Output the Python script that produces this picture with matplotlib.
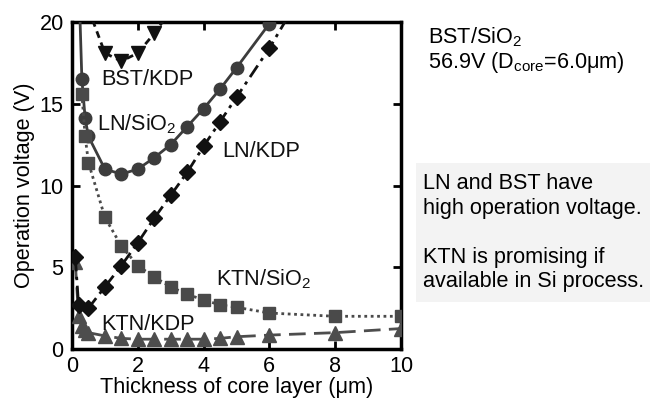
import matplotlib
matplotlib.use("Agg")
import matplotlib.pyplot as plt
from matplotlib.patches import Rectangle

plt.rcParams['font.family'] = ['Liberation Sans', 'DejaVu Sans']
plt.rcParams['mathtext.fontset'] = 'custom'
plt.rcParams['mathtext.rm'] = 'Liberation Sans'
plt.rcParams['mathtext.default'] = 'regular'

# ---- data ----
ln_sio2_x = [0.2, 0.3, 0.4, 0.5, 1.0, 1.5, 2.0, 2.5, 3.0, 3.5, 4.0, 4.5, 5.0, 6.0]
ln_sio2_y = [23.0, 16.5, 14.1, 13.0, 11.0, 10.7, 11.0, 11.7, 12.5, 13.6, 14.7, 15.9, 17.2, 19.9]

ln_kdp_x = [0.1, 0.2, 0.5, 1.0, 1.5, 2.0, 2.5, 3.0, 3.5, 4.0, 4.5, 5.0, 6.0, 7.0]
ln_kdp_y = [5.6, 2.7, 2.5, 3.8, 5.1, 6.5, 8.0, 9.4, 10.8, 12.4, 13.9, 15.4, 18.4, 21.8]

ktn_sio2_x = [0.3, 0.4, 0.5, 1.0, 1.5, 2.0, 2.5, 3.0, 3.5, 4.0, 4.5, 5.0, 6.0, 8.0, 10.0]
ktn_sio2_y = [15.6, 13.0, 11.4, 8.05, 6.3, 5.1, 4.4, 3.8, 3.35, 3.0, 2.7, 2.55, 2.2, 2.0, 2.0]

ktn_kdp_x = [0.1, 0.2, 0.3, 0.4, 0.5, 1.0, 1.5, 2.0, 2.5, 3.0, 3.5, 4.0, 4.5, 5.0, 6.0, 8.0, 10.0]
ktn_kdp_y = [5.3, 2.0, 1.4, 1.15, 1.0, 0.8, 0.65, 0.6, 0.6, 0.6, 0.6, 0.6, 0.65, 0.75, 0.85, 1.0, 1.25]

bst_kdp_x = [0.5, 1.0, 1.5, 2.0, 2.5, 3.0]
bst_kdp_y = [20.8, 18.1, 17.6, 18.1, 19.3, 20.7]

x_ticks = [0, 2, 4, 6, 8, 10]
y_ticks = [0, 5, 10, 15, 20]

series_labels = ["BST/KDP", "LN/SiO$_2$", "LN/KDP", "KTN/SiO$_2$", "KTN/KDP"]
label_pos = [(0.88, 16.15), (0.76, 13.4), (4.58, 11.74), (4.38, 3.91), (0.88, 1.16)]

FS = 15.6

# ---- figure ----
fig = plt.figure(figsize=(6.5, 4.03), dpi=100)
ax = fig.add_axes([72/650, 1 - 349/403, (401-72)/650, (349-22)/403])

lw = 2.0
ax.plot(ln_sio2_x, ln_sio2_y, color='#3c3c3c', lw=lw, ls='-', marker='o', ms=9,
        zorder=3)
ax.plot(ln_kdp_x, ln_kdp_y, color='#111111', lw=lw, ls=(0, (5, 2, 1.2, 2)), marker='D',
        ms=8.5, zorder=4)
ax.plot(ktn_sio2_x, ktn_sio2_y, color='#4a4a4a', lw=lw, ls=(0, (1.0, 1.3)), marker='s',
        ms=8.5, zorder=3)
ax.plot(ktn_kdp_x, ktn_kdp_y, color='#4d4d4d', lw=lw, ls=(0, (6, 3)), marker='^',
        ms=9.5, zorder=3)
ax.plot(bst_kdp_x, bst_kdp_y, color='#111111', lw=lw, ls=(0, (2.5, 1.8)), marker='v',
        ms=9.5, zorder=3)

for txt, (tx, ty) in zip(series_labels, label_pos):
    ax.text(tx, ty, txt, fontsize=FS, ha='left', va='baseline', color='#111111', zorder=5)

ax.set_xlim(0, 10)
ax.set_ylim(0, 20)
ax.set_xticks(x_ticks)
ax.set_yticks(y_ticks)
ax.tick_params(direction='in', length=6, width=2, top=True, right=True,
               labelsize=FS, pad=6, colors='black')
ax.tick_params(axis='x', pad=5)
for s in ax.spines.values():
    s.set_linewidth(2.5)

ax.set_xlabel("Thickness of core layer (\u03bcm)", fontsize=FS, labelpad=0)
ax.set_ylabel("Operation voltage (V)", fontsize=FS, labelpad=3)

# ---- right-hand notes ----
fig.text(428/650, 1 - 43/403, "BST/SiO$_2$", fontsize=FS, ha='left', va='baseline')
fig.text(428/650, 1 - 68/403, "56.9V (D$_{core}$=6.0\u03bcm)", fontsize=FS, ha='left',
         va='baseline')

fig.patches.append(Rectangle((416/650, 1 - 302/403), (650-416)/650, (302-163)/403,
                             transform=fig.transFigure, facecolor='#f3f3f3',
                             edgecolor='none', zorder=0))
notes = ["LN and BST have", "high operation voltage.", "KTN is promising if",
         "available in Si process."]
note_base = [189, 214, 263, 287]
for t, b in zip(notes, note_base):
    fig.text(423/650, 1 - b/403, t, fontsize=FS, ha='left', va='baseline')

fig.savefig("out.png", dpi=100)
